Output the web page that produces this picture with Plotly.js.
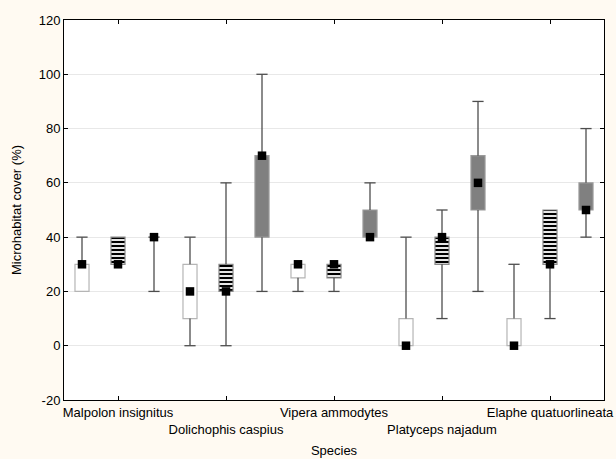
<!DOCTYPE html>
<html>
<head>
<meta charset="utf-8">
<script src="https://cdn.plot.ly/plotly-3.0.1.min.js"></script>
<style>html,body{margin:0;padding:0;background:#fffaf2;}</style>
</head>
<body>
<div id="chart" style="width:616px;height:459px;"></div>
<script>
// Species (x categories)
var species = ["Malpolon insignitus", "Dolichophis caspius", "Vipera ammodytes", "Platyceps najadum", "Elaphe quatuorlineata"];
// Y tick labels
var yTicks = [-20, 0, 20, 40, 60, 80, 100, 120];
var yTickText = ["-20", "0", "20", "40", "60", "80", "100", "120"];
// Three groups per species: white, striped, gray
// Group 1 (white boxes)
var g1Min    = [20, 0, 20, 0, 0];
var g1Q1     = [20, 10, 25, 0, 0];
var g1Q3     = [30, 30, 30, 10, 10];
var g1Max    = [40, 40, 30, 40, 30];
var g1Median = [30, 20, 30, 0, 0];
// Group 2 (striped boxes)
var g2Min    = [30, 0, 20, 10, 10];
var g2Q1     = [30, 20, 25, 30, 30];
var g2Q3     = [40, 30, 30, 40, 50];
var g2Max    = [40, 60, 30, 50, 50];
var g2Median = [30, 20, 30, 40, 30];
// Group 3 (gray boxes)
var g3Min    = [20, 20, 40, 20, 40];
var g3Q1     = [null, 40, 40, 50, 50];
var g3Q3     = [null, 70, 50, 70, 60];
var g3Max    = [40, 100, 60, 90, 80];
var g3Median = [40, 70, 40, 60, 50];

var groups = [
  {min:g1Min, q1:g1Q1, q3:g1Q3, max:g1Max, med:g1Median, off:-1/3, fill:'#ffffff', line:'#b5b5b5', pattern:null},
  {min:g2Min, q1:g2Q1, q3:g2Q3, max:g2Max, med:g2Median, off:0, fill:'#ffffff', line:'#8a8a8a', pattern:{shape:'-', fgcolor:'#000000', bgcolor:'#ffffff', size:4, solidity:0.55, fillmode:'replace'}},
  {min:g3Min, q1:g3Q1, q3:g3Q3, max:g3Max, med:g3Median, off:1/3, fill:'#808080', line:'#9a9a9a', pattern:null}
];

var traces = [];
var boxW = 0.13;
groups.forEach(function(g){
  var xs = species.map(function(_, i){ return i + g.off; });
  var bx = [], bbase = [], bh = [];
  xs.forEach(function(x, i){
    if (g.q1[i] !== null && g.q3[i] !== null) { bx.push(x); bbase.push(g.q1[i]); bh.push(g.q3[i] - g.q1[i]); }
  });
  var marker = {color: g.fill, line:{color:g.line, width:1.2}};
  if (g.pattern) marker.pattern = g.pattern;
  traces.push({type:'bar', x:bx, y:bh, base:bbase, width:boxW, marker:marker, hoverinfo:'skip', showlegend:false});

  // whiskers
  var wx = [], wy = [], cx = [], cy = [];
  xs.forEach(function(x, i){
    if (g.q1[i] === null) {
      wx.push(x, x, null); wy.push(g.min[i], g.max[i], null);
      cx.push(x, x); cy.push(g.min[i], g.max[i]);
    } else {
      if (g.max[i] > g.q3[i]) { wx.push(x, x, null); wy.push(g.q3[i], g.max[i], null); cx.push(x); cy.push(g.max[i]); }
      if (g.min[i] < g.q1[i]) { wx.push(x, x, null); wy.push(g.min[i], g.q1[i], null); cx.push(x); cy.push(g.min[i]); }
    }
  });
  traces.push({type:'scatter', mode:'lines', x:wx, y:wy, line:{color:'#4d4d4d', width:1.3}, hoverinfo:'skip', showlegend:false, connectgaps:false});
  traces.push({type:'scatter', mode:'markers', x:cx, y:cy, marker:{symbol:'line-ew', size:8, line:{color:'#4d4d4d', width:1.3}}, hoverinfo:'skip', showlegend:false});
  traces.push({type:'scatter', mode:'markers', x:xs, y:g.med, marker:{symbol:'square', size:8.5, color:'#000000'}, showlegend:false});
});

var tickText = species.map(function(s, i){ return i % 2 === 1 ? '<br>' + s : s; });

var layout = {
  width:616, height:459,
  paper_bgcolor:'#fffaf2',
  plot_bgcolor:'#ffffff',
  margin:{l:64, r:12, t:20, b:59},
  barmode:'overlay',
  font:{family:'"Liberation Sans", Arial, sans-serif', size:13, color:'#000000'},
  xaxis:{
    range:[-0.5, 4.5], tickvals:[0,1,2,3,4], ticktext:tickText, tickangle:0,
    showgrid:false, zeroline:false, showline:true, linecolor:'#000000', linewidth:1, mirror:'ticks',
    ticks:'inside', ticklen:4, tickcolor:'#000000',
    automargin:false,
    title:{text:'Species', font:{size:13}, standoff:10}
  },
  yaxis:{
    range:[-20, 120], tickvals:yTicks, ticktext:yTickText,
    showgrid:true, gridcolor:'#e8e8e8', zeroline:false, showline:true, linecolor:'#000000', linewidth:1, mirror:'ticks',
    ticks:'inside', ticklen:4, tickcolor:'#000000',
    automargin:false,
    title:{text:'Microhabitat cover (%)', font:{size:13}, standoff:14}
  }
};

Plotly.newPlot('chart', traces, layout, {displayModeBar:false, staticPlot:true});
</script>
</body>
</html>
